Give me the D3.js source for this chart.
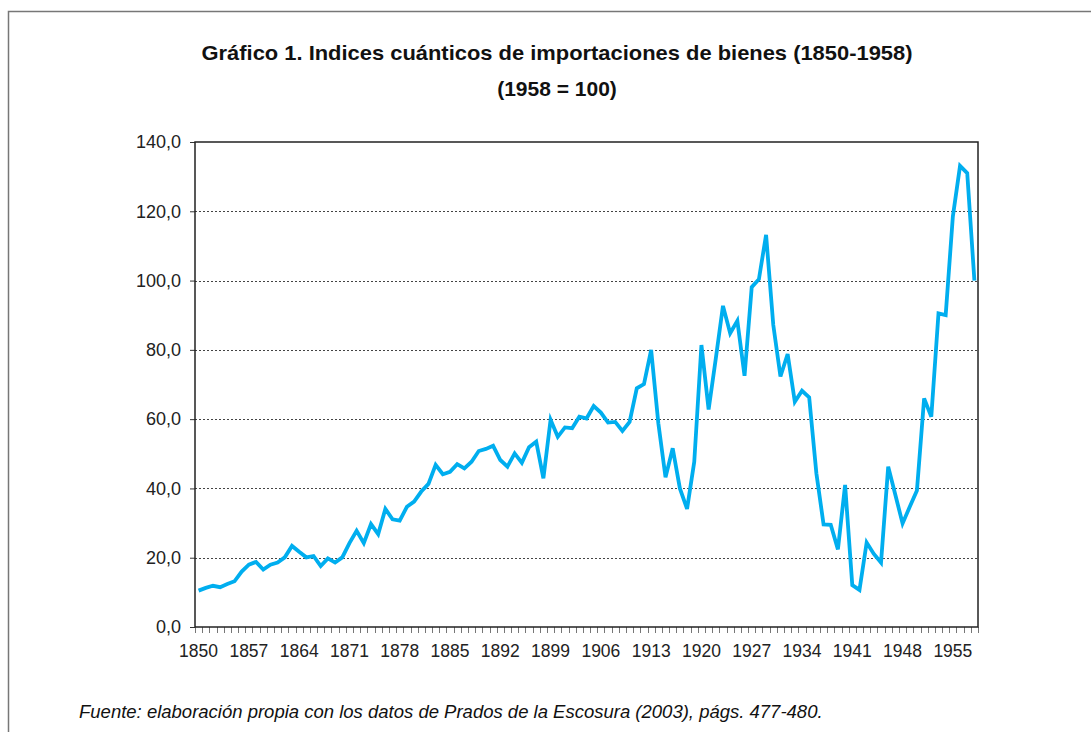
<!DOCTYPE html>
<html>
<head>
<meta charset="utf-8">
<script src="https://cdn.jsdelivr.net/npm/d3@7"></script>
<style>
  body { margin: 0; background: #fff; }
  svg { display: block; }
</style>
</head>
<body>
<div id="chart"></div>
<script>
// Years 1850..1958 (category axis)
const years = d3.range(1850, 1959);
// Import quantum index, 1958 = 100
const importIndex = [
  10.5, 11.3, 11.9, 11.5, 12.4, 13.2, 16.0, 18.0, 18.8, 16.6,
  18.0, 18.6, 20.1, 23.4, 21.7, 20.1, 20.5, 17.6, 19.8, 18.6,
  20.1, 24.2, 27.8, 24.2, 29.7, 26.8, 34.1, 31.1, 30.7, 34.7,
  36.2, 39.1, 41.3, 46.8, 44.1, 44.8, 47.0, 45.8, 47.7, 50.8,
  51.4, 52.3, 48.2, 46.3, 50.1, 47.4, 51.9, 53.5, 42.9, 59.8,
  54.9, 57.6, 57.4, 60.7, 60.2, 63.8, 61.9, 59.0, 59.2, 56.6,
  59.2, 68.9, 70.1, 80.0, 58.8, 43.2, 51.6, 40.0, 34.1, 47.7,
  81.4, 62.8, 77.5, 92.7, 84.8, 88.4, 72.5, 98.1, 100.4, 113.2,
  87.2, 72.3, 78.8, 65.0, 68.2, 66.3, 44.4, 29.6, 29.5, 22.4,
  41.0, 12.1, 10.7, 24.4, 21.1, 18.6, 46.3, 38.1, 29.9, 34.7,
  39.4, 66.0, 60.7, 90.5, 90.0, 118.5, 133.1, 131.0, 100.0
];
// Labelled years on the x axis (every 7 years)
const yearLabels = [1850, 1857, 1864, 1871, 1878, 1885, 1892, 1899, 1906, 1913, 1920, 1927, 1934, 1941, 1948, 1955];
const yTicks = [0, 20, 40, 60, 80, 100, 120, 140];

const data = years.map((yr, i) => ({ year: yr, value: importIndex[i] }));

const W = 1091, H = 732;
const margin = { top: 142, right: 113, bottom: 105, left: 195 };
const width = W - margin.left - margin.right;
const height = H - margin.top - margin.bottom;

const svg = d3.select('#chart')
  .append('svg')
  .attr('width', W)
  .attr('height', H)
  .style('font-family', '"Liberation Sans", Arial, sans-serif');

// outer frame (only top and left edges are in view)
svg.append('path')
  .attr('d', `M8.5,${H} V11.5 H${W}`)
  .attr('fill', 'none')
  .attr('stroke', '#777')
  .attr('stroke-width', 1.5);

// Title
const title = svg.append('text')
  .attr('text-anchor', 'middle')
  .style('font-weight', 'bold')
  .style('font-size', '21px')
  .style('fill', '#111');
title.append('tspan')
  .attr('x', 557).attr('y', 60)
  .attr('textLength', 711)
  .attr('lengthAdjust', 'spacingAndGlyphs')
  .text('Gráfico 1. Indices cuánticos de importaciones de bienes (1850-1958)');
title.append('tspan')
  .attr('x', 557).attr('y', 96)
  .text('(1958 = 100)');

const g = svg.append('g')
  .attr('transform', `translate(${margin.left},${margin.top})`);

const x = d3.scaleBand()
  .domain(years)
  .range([0, width])
  .padding(0);

const y = d3.scaleLinear()
  .domain([0, 140])
  .range([height, 0]);

// dotted gridlines
g.append('g')
  .selectAll('line')
  .data(yTicks.filter(d => d > 0 && d < 140))
  .enter()
  .append('line')
  .attr('x1', 0)
  .attr('x2', width)
  .attr('y1', d => Math.round(y(d)) + 0.5)
  .attr('y2', d => Math.round(y(d)) + 0.5)
  .attr('stroke', '#444')
  .attr('stroke-width', 1)
  .attr('stroke-dasharray', '2,2');

// minor category ticks below the x axis
g.append('g')
  .selectAll('line')
  .data(years.concat([1959]))
  .enter()
  .append('line')
  .attr('x1', d => Math.round(d === 1959 ? width : x(d)) + 0.5)
  .attr('x2', d => Math.round(d === 1959 ? width : x(d)) + 0.5)
  .attr('y1', height)
  .attr('y2', height + 6)
  .attr('stroke', '#777')
  .attr('stroke-width', 1);

// X axis labels
const xAxis = g.append('g')
  .attr('transform', `translate(0,${height})`)
  .call(d3.axisBottom(x).tickValues(yearLabels).tickSize(0).tickPadding(18));
xAxis.select('.domain').remove();
xAxis.selectAll('text')
  .style('font-size', '17.5px')
  .style('fill', '#222');

// Y axis
const yAxis = g.append('g')
  .call(d3.axisLeft(y)
    .tickValues(yTicks)
    .tickSize(5)
    .tickPadding(9)
    .tickFormat(d => d3.format('.1f')(d).replace('.', ',')));
yAxis.select('.domain').remove();
yAxis.selectAll('line').attr('stroke', '#333');
yAxis.selectAll('text')
  .style('font-size', '18px')
  .style('fill', '#222');

// plot area frame
g.append('rect')
  .attr('x', 0)
  .attr('y', 0)
  .attr('width', width)
  .attr('height', height)
  .attr('fill', 'none')
  .attr('stroke', '#222')
  .attr('stroke-width', 1.5);

// the series
const line = d3.line()
  .x(d => x(d.year) + x.bandwidth() / 2)
  .y(d => y(d.value));

g.append('path')
  .datum(data)
  .attr('fill', 'none')
  .attr('stroke', '#00AEEF')
  .attr('stroke-width', 3.8)
  .attr('stroke-linejoin', 'miter')
  .attr('d', line);

// Source note
svg.append('text')
  .attr('x', 79)
  .attr('y', 718)
  .style('font-style', 'italic')
  .style('font-size', '18.5px')
  .style('fill', '#111')
  .text('Fuente: elaboración propia con los datos de Prados de la Escosura (2003), págs. 477-480.');
</script>
</body>
</html>
